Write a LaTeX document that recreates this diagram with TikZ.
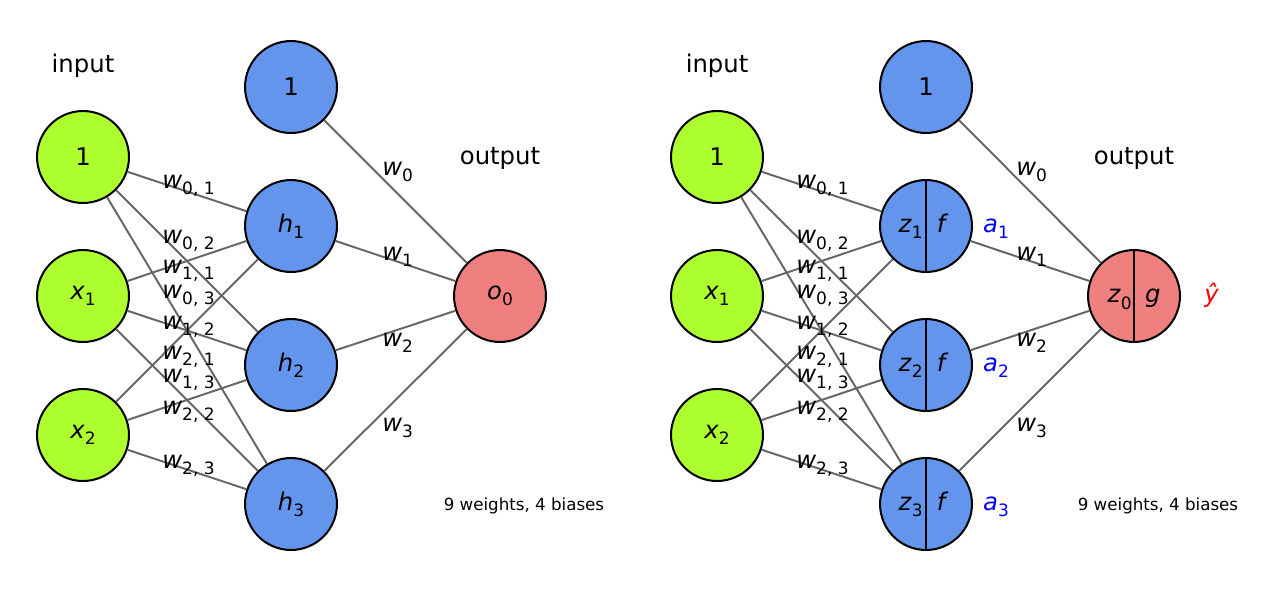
\documentclass[tikz,border=0pt]{standalone}
\usepackage{fontspec}
\setmainfont{DejaVu Sans}
\definecolor{ingreen}{RGB}{173,255,47}
\definecolor{hidblue}{RGB}{100,149,237}
\definecolor{outred}{RGB}{240,128,128}
\definecolor{edgegray}{RGB}{102,102,102}
\newcommand\vs[2]{\textit{#1}\raisebox{-0.25em}{\fontsize{12.25}{12}\selectfont #2}}
\begin{document}
\begin{tikzpicture}[x=0.72pt,y=-0.72pt,
  neuron/.style={circle,draw=black,line width=1.45pt,minimum size=66.2pt,inner sep=0pt,font=\fontsize{17.5}{20}\selectfont},
  inp/.style={neuron,fill=ingreen},
  hid/.style={neuron,fill=hidblue},
  outn/.style={neuron,fill=outred},
  edge/.style={draw=edgegray,line width=1.4pt},
  big/.style={font=\fontsize{17.5}{20}\selectfont,inner sep=0pt},
  wlab/.style={big,anchor=base west},
  small/.style={font=\fontsize{12}{14}\selectfont,inner sep=0pt},
  split/.style={draw=black,line width=1.45pt}
  ]
\useasboundingbox (0,0) rectangle (1267,588);
% ---------- left panel ----------
\node[big] (inL) at (83,66) {input};
\node[big] (outL) at (500,158) {output};
\node[inp] (a0) at (83,157) {1};
\node[inp] (a1) at (83,296) {\vs{x}{1}};
\node[inp] (a2) at (83,435) {\vs{x}{2}};
\node[hid] (b0) at (291,87) {1};
\node[hid] (b1) at (291,226) {\vs{h}{1}};
\node[hid] (b2) at (291,365) {\vs{h}{2}};
\node[hid] (b3) at (291,504) {\vs{h}{3}};
\node[outn] (c0) at (500,296) {\vs{o}{0}};
\foreach \i in {0,1,2}{\foreach \j in {1,2,3}{\draw[edge] (a\i) -- (b\j);}}
\foreach \j in {0,...,3}{\draw[edge] (b\j) -- (c0);}
\node[wlab] (l01) at (162,188) {\vs{w}{0, 1}};
\node[wlab] (l02) at (162,243) {\vs{w}{0, 2}};
\node[wlab] (l11) at (162,273) {\vs{w}{1, 1}};
\node[wlab] (l03) at (162,298) {\vs{w}{0, 3}};
\node[wlab] (l12) at (162,329) {\vs{w}{1, 2}};
\node[wlab] (l21) at (162,359) {\vs{w}{2, 1}};
\node[wlab] (l13) at (162,382) {\vs{w}{1, 3}};
\node[wlab] (l22) at (162,414) {\vs{w}{2, 2}};
\node[wlab] (l23) at (162,468) {\vs{w}{2, 3}};
\node[wlab] (o0) at (382,175) {\vs{w}{0}};
\node[wlab] (o1) at (382,260) {\vs{w}{1}};
\node[wlab] (o2) at (382,346) {\vs{w}{2}};
\node[wlab] (o3) at (382,431) {\vs{w}{3}};
\node[small] (cntL) at (524,506) {9 weights, 4 biases};
% ---------- right panel ----------
\begin{scope}[shift={(634,0)}]
\node[big] (inR) at (83,66) {input};
\node[big] (outR) at (500,158) {output};
\node[inp] (d0) at (83,157) {1};
\node[inp] (d1) at (83,296) {\vs{x}{1}};
\node[inp] (d2) at (83,435) {\vs{x}{2}};
\node[hid] (e0) at (292,87) {1};
\node[hid] (e1) at (292,226) {};
\node[hid] (e2) at (292,365) {};
\node[hid] (e3) at (292,504) {};
\node[outn] (f0) at (500,296) {};
\foreach \i in {0,1,2}{\foreach \j in {1,2,3}{\draw[edge] (d\i) -- (e\j);}}
\foreach \j in {0,...,3}{\draw[edge] (e\j) -- (f0);}
\foreach \j in {1,2,3}{
  \draw[split] (e\j.north) -- (e\j.south);
  \node[big,anchor=base east] (z\j) at ([xshift=-2.2pt,yshift=-4.9pt]e\j.center) {\vs{z}{\j}};
  \node[big,anchor=base] (fn\j) at ([xshift=12pt,yshift=-4.9pt]e\j.center) {\textit{f}};
  \node[big,anchor=base west,text=blue] (act\j) at ([xshift=41pt,yshift=-4.9pt]e\j.center) {\vs{a}{\j}};
}
\draw[split] (f0.north) -- (f0.south);
\node[big,anchor=base east] (z0) at ([xshift=-1.5pt,yshift=-5pt]f0.center) {\vs{z}{0}};
\node[big,anchor=base] (gn) at ([xshift=13.5pt,yshift=-5pt]f0.center) {\textit{g}};
\node[big,anchor=base,text=red] (yhat) at ([xshift=56pt,yshift=-5pt]f0.center) {\textit{ŷ}};
\node[wlab] (m01) at (162,188) {\vs{w}{0, 1}};
\node[wlab] (m02) at (162,243) {\vs{w}{0, 2}};
\node[wlab] (m11) at (162,273) {\vs{w}{1, 1}};
\node[wlab] (m03) at (162,298) {\vs{w}{0, 3}};
\node[wlab] (m12) at (162,329) {\vs{w}{1, 2}};
\node[wlab] (m21) at (162,359) {\vs{w}{2, 1}};
\node[wlab] (m13) at (162,382) {\vs{w}{1, 3}};
\node[wlab] (m22) at (162,414) {\vs{w}{2, 2}};
\node[wlab] (m23) at (162,468) {\vs{w}{2, 3}};
\node[wlab] (p0) at (382,175) {\vs{w}{0}};
\node[wlab] (p1) at (382,260) {\vs{w}{1}};
\node[wlab] (p2) at (382,346) {\vs{w}{2}};
\node[wlab] (p3) at (382,431) {\vs{w}{3}};
\node[small] (cntR) at (524,506) {9 weights, 4 biases};
\end{scope}
\end{tikzpicture}
\end{document}
